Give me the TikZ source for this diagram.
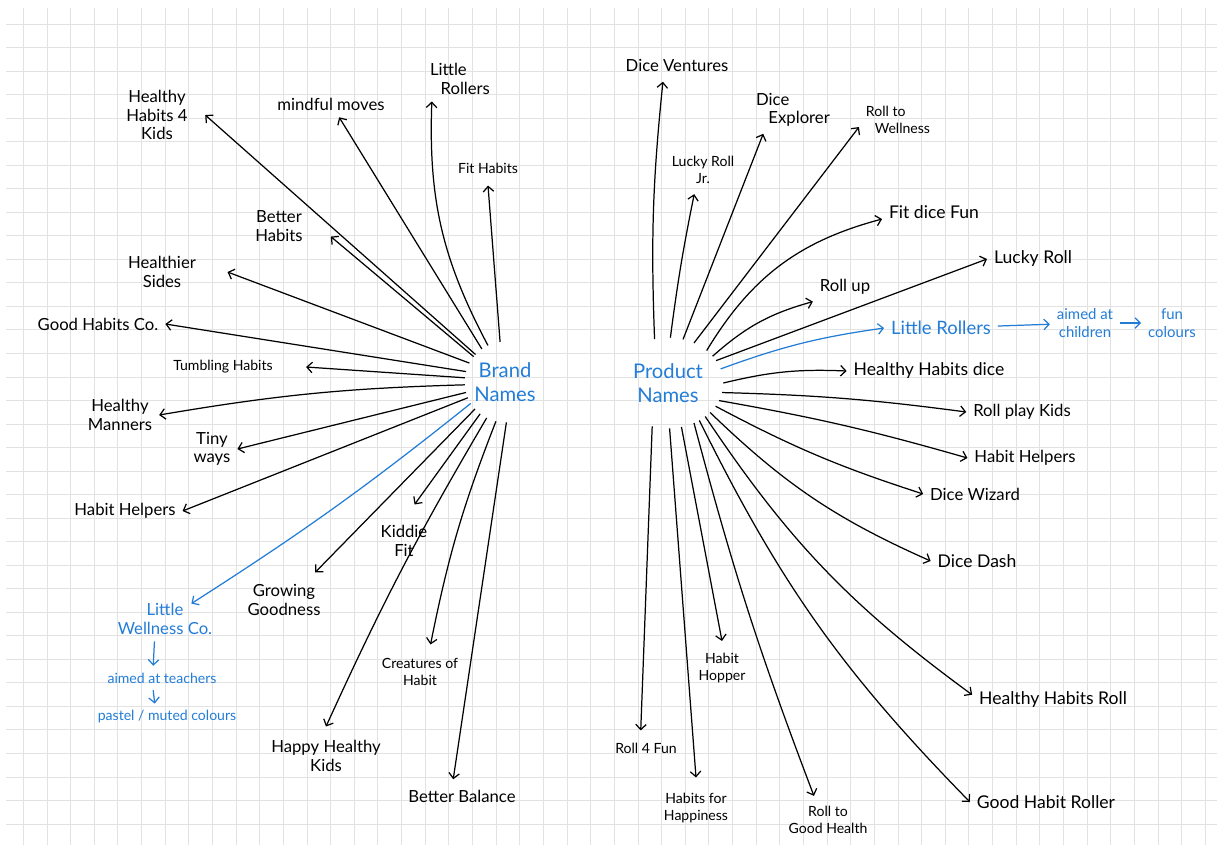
\documentclass[tikz,border=0pt]{standalone}
\usepackage{fontspec}
\setmainfont{Lato}
\usetikzlibrary{arrows.meta,positioning,shapes.geometric}

\definecolor{inkblue}{RGB}{35,125,215}
\definecolor{gridgray}{RGB}{226,226,226}

\tikzset{
	hub/.style={inner sep=0pt,text=inkblue,align=center,
		font=\fontsize{11.5}{14}\selectfont},
	idea/.style={align=center,inner sep=1pt,outer sep=3pt,
		font=\fontsize{9.5}{10.5}\selectfont},
	smallidea/.style={idea,font=\fontsize{8}{9.5}\selectfont},
	bigidea/.style={idea,font=\fontsize{10}{12}\selectfont},
	aside/.style={idea,text=inkblue},
	link/.style={draw,line width=0.7pt,-{Straight Barb[length=3pt,width=6pt]}},
	bluelink/.style={link,draw=inkblue}
}

\begin{document}
\begin{tikzpicture}[x=0.02cm,y=-0.02cm]
	
	\useasboundingbox (0,0) rectangle (1217,850);
	\fill[white] (0,0) rectangle (1217,850);
	
	% grid paper
	\foreach \k in {0,...,50}
	\draw[gridgray,line width=0.5pt] ({23.3+23.64*\k},8) -- ({23.3+23.64*\k},845);
	\foreach \k in {0,...,34}
	\draw[gridgray,line width=0.5pt] (6,{24+23.53*\k}) -- (1217,{24+23.53*\k});
	
	% hubs
	\node[hub,circle,minimum size=1.6cm] (bn) at (505,382) {Brand\\Names};
	\node[hub,ellipse,minimum width=2.2cm,minimum height=1.8cm] (pn) at (668,383) {Product\\Names};
	
	% brand names
	\node[idea] (l1) at (157,115) {Healthy\\Habits 4\\Kids};
	\node[idea] (l2) at (331,104) {mindful moves};
	\node[idea,align=left] (l3) at (460,79) {Little\\\hspace{6pt}Rollers};
	\node[smallidea] (l4) at (488,168) {Fit Habits};
	\node[idea] (l5) at (279,226) {Better\\Habits};
	\node[idea] (l6) at (162,272) {Healthier\\Sides};
	\node[idea] (l7) at (98,324) {Good Habits Co.};
	\node[smallidea] (l8) at (223,367) {Tumbling Habits};
	\node[idea] (l9) at (120,415) {Healthy\\Manners};
	\node[idea] (l10) at (212,449) {Tiny\\ways};
	\node[idea] (l11) at (125,511) {Habit Helpers};
	\node[aside] (l12) at (165,619) {Little\\Wellness Co.};
	\node[idea] (l13) at (284,600) {Growing\\Goodness};
	\node[idea] (l14) at (404,541) {Kiddie\\Fit};
	\node[smallidea] (l15) at (420,672) {Creatures of\\Habit};
	\node[idea] (l16) at (326,756) {Happy Healthy\\Kids};
	\node[idea] (l17) at (462,796) {Better Balance};
	\node[aside,font=\fontsize{8}{9.5}\selectfont] (b1) at (162,678) {aimed at teachers};
	\node[aside,font=\fontsize{8}{9.5}\selectfont] (b2) at (167,717) {pastel / muted colours};
	
	% product names
	\node[idea] (r1) at (677,65) {Dice Ventures};
	\node[smallidea] (r2) at (703,170) {Lucky Roll\\Jr.};
	\node[idea,align=left] (r3) at (793,110) {Dice\\\hspace{7pt}Explorer};
	\node[smallidea,align=left] (r4) at (898,120) {Roll to\\\hspace{5pt}Wellness};
	\node[bigidea] (r5) at (934,212) {Fit dice Fun};
	\node[bigidea] (r6) at (1033,259) {Lucky Roll};
	\node[idea] (r7) at (845,287) {Roll up};
	\node[aside,font=\fontsize{10.5}{12}\selectfont] (r8) at (941,328) {Little Rollers};
	\node[aside,font=\fontsize{8.5}{10}\selectfont] (r9) at (1085,323) {aimed at\\children};
	\node[aside,font=\fontsize{8.5}{10}\selectfont] (r10) at (1172,323) {fun\\colours};
	\node[bigidea] (r11) at (929,371) {Healthy Habits dice};
	\node[idea] (r12) at (1022,412) {Roll play Kids};
	\node[idea] (r13) at (1025,458) {Habit Helpers};
	\node[idea] (r14) at (975,494) {Dice Wizard};
	\node[bigidea] (r15) at (977,561) {Dice Dash};
	\node[bigidea] (r16) at (1053,700) {Healthy Habits Roll};
	\node[bigidea] (r17) at (1046,802) {Good Habit Roller};
	\node[smallidea] (r18) at (828,820) {Roll to\\Good Health};
	\node[smallidea] (r19) at (722,668) {Habit\\Hopper};
	\node[smallidea] (r20) at (696,808) {Habits for\\Happiness};
	\node[smallidea] (r21) at (646,748) {Roll 4 Fun};
	
	% brand links
	\draw[link] (bn.137) to ([xshift=6pt]l1.east);
	\draw[link] (bn.125) to (l2);
	\draw[link] (bn.115) to[bend left=15] ([xshift=5pt]l3.south west);
	\draw[link] (bn.97) to ([yshift=-3pt]l4.south);
	\draw[link] (bn.141) to ([xshift=12pt,yshift=-6pt]l5.east);
	\draw[link] (bn.152) to ([xshift=14pt]l6.east);
	\draw[link] (bn.165) to (l7.east);
	\draw[link] (bn.174) to ([xshift=15pt]l8.east);
	\draw[link] (bn.184) to[bend right=4] (l9.east);
	\draw[link] (bn.195) to (l10.east);
	\draw[link] (bn.203) to (l11.east);
	\draw[bluelink] (bn.212) to[bend left=3] ([xshift=15pt,yshift=-4pt]l12.north);
	\draw[link] (bn.222) to ([xshift=-7pt,yshift=3pt]l13.north east);
	\draw[link] (bn.232) to ([xshift=6pt,yshift=8pt]l14.north);
	\draw[link] (bn.257) to[bend right=5] ([xshift=6pt,yshift=4pt]l15.north);
	\draw[link] (bn.243) to[bend right=3] ([yshift=4pt]l16.north);
	\draw[link] (bn.272) to ([xshift=-5pt,yshift=2pt]l17.north);
	\draw[bluelink] ([xshift=-6pt]l12.south) -- ([xshift=-5pt]b1.north);
	\draw[bluelink] ([xshift=-5pt]b1.south) -- ([xshift=-7pt]b2.north);
	
	% product links
	\draw[link] (pn.107) to[bend left=4] ([xshift=-8pt,yshift=-2pt]r1.south);
	\draw[link] (pn.87) to[bend left=2] ([xshift=-5pt,yshift=-2pt]r2.south);
	\draw[link] (pn.71) to ([xshift=8pt]r3.south west);
	\draw[link] (pn.57) to ([yshift=-4pt]r4.west);
	\draw[link] (pn.40) to[bend left=22] ([yshift=-4pt]r5.west);
	\draw[link] (pn.31) to[bend left=13] (r7.south west);
	\draw[link] (pn.25) to (r6.west);
	\draw[bluelink] (pn.15) to[bend left=6] (r8.west);
	\draw[bluelink] (r8) -- (r9);
	\draw[bluelink] (r9) -- (r10);
	\draw[link] (pn.0) to[bend left=8] (r11.west);
	\draw[link] (pn.-10) to[bend left=3] (r12.west);
	\draw[link] (pn.-19) to[bend left=3] (r13.west);
	\draw[link] (pn.-26) to[bend right=5] (r14.west);
	\draw[link] (pn.-35) to[bend right=10] (r15.west);
	\draw[link] (pn.-42) to[bend right=10] ([yshift=3pt]r16.west);
	\draw[link] (pn.-50) to[bend right=9] (r17.west);
	\draw[link] (pn.-57) to[bend right=3] ([xshift=-8pt,yshift=2pt]r18.north);
	\draw[link] (pn.-73) to ([yshift=3pt]r19.north);
	\draw[link] (pn.-88) to ([yshift=5pt]r20.north);
	\draw[link] (pn.-110) to ([xshift=-3pt,yshift=3pt]r21.north);
	
\end{tikzpicture}
\end{document}
